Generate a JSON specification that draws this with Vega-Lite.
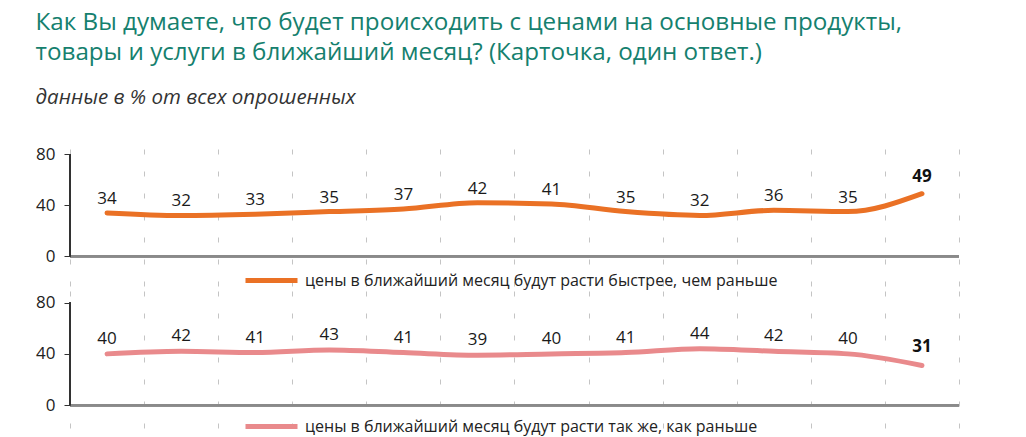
{
  "$schema": "https://vega.github.io/schema/vega-lite/v6.json",
  "padding": {"left": 35, "top": 11, "right": 0, "bottom": 0},
  "config": {"font": "Open Sans", "view": {"stroke": null}},
  "title": {
    "text": ["Как Вы думаете, что будет происходить с ценами на основные продукты,", "товары и услуги в ближайший месяц? (Карточка, один ответ.)"],
    "subtitle": "данные в % от всех опрошенных",
    "anchor": "start",
    "frame": "bounds",
    "font": "Open Sans",
    "fontSize": 24.2,
    "fontWeight": "normal",
    "lineHeight": 30,
    "color": "#15806e",
    "subtitleFont": "Open Sans",
    "subtitleFontStyle": "italic",
    "subtitleFontSize": 20.5,
    "subtitleColor": "#333333",
    "subtitlePadding": 22,
    "offset": 37
  },
  "data": {"values": [
    {"series": "цены в ближайший месяц будут расти быстрее, чем раньше", "wave": 1, "value": 34},
    {"series": "цены в ближайший месяц будут расти быстрее, чем раньше", "wave": 2, "value": 32},
    {"series": "цены в ближайший месяц будут расти быстрее, чем раньше", "wave": 3, "value": 33},
    {"series": "цены в ближайший месяц будут расти быстрее, чем раньше", "wave": 4, "value": 35},
    {"series": "цены в ближайший месяц будут расти быстрее, чем раньше", "wave": 5, "value": 37},
    {"series": "цены в ближайший месяц будут расти быстрее, чем раньше", "wave": 6, "value": 42},
    {"series": "цены в ближайший месяц будут расти быстрее, чем раньше", "wave": 7, "value": 41},
    {"series": "цены в ближайший месяц будут расти быстрее, чем раньше", "wave": 8, "value": 35},
    {"series": "цены в ближайший месяц будут расти быстрее, чем раньше", "wave": 9, "value": 32},
    {"series": "цены в ближайший месяц будут расти быстрее, чем раньше", "wave": 10, "value": 36},
    {"series": "цены в ближайший месяц будут расти быстрее, чем раньше", "wave": 11, "value": 35},
    {"series": "цены в ближайший месяц будут расти быстрее, чем раньше", "wave": 12, "value": 49},
    {"series": "цены в ближайший месяц будут расти так же, как раньше", "wave": 1, "value": 40},
    {"series": "цены в ближайший месяц будут расти так же, как раньше", "wave": 2, "value": 42},
    {"series": "цены в ближайший месяц будут расти так же, как раньше", "wave": 3, "value": 41},
    {"series": "цены в ближайший месяц будут расти так же, как раньше", "wave": 4, "value": 43},
    {"series": "цены в ближайший месяц будут расти так же, как раньше", "wave": 5, "value": 41},
    {"series": "цены в ближайший месяц будут расти так же, как раньше", "wave": 6, "value": 39},
    {"series": "цены в ближайший месяц будут расти так же, как раньше", "wave": 7, "value": 40},
    {"series": "цены в ближайший месяц будут расти так же, как раньше", "wave": 8, "value": 41},
    {"series": "цены в ближайший месяц будут расти так же, как раньше", "wave": 9, "value": 44},
    {"series": "цены в ближайший месяц будут расти так же, как раньше", "wave": 10, "value": 42},
    {"series": "цены в ближайший месяц будут расти так же, как раньше", "wave": 11, "value": 40},
    {"series": "цены в ближайший месяц будут расти так же, как раньше", "wave": 12, "value": 31}
  ]},
  "spacing": -4,
  "resolve": {"scale": {"y": "independent", "stroke": "independent"}, "legend": {"stroke": "independent"}},
  "vconcat": [
    {
      "width": 889,
      "height": 138,
      "transform": [{"filter": "datum.series === 'цены в ближайший месяц будут расти быстрее, чем раньше'"}],
      "encoding": {
        "x": {"field": "wave", "type": "ordinal", "scale": {"type": "band", "paddingInner": 0, "paddingOuter": 0},
              "axis": {"title": null, "labels": false, "ticks": false, "domain": false, "grid": true, "gridDash": [5, 17], "gridColor": "#c4c4c4", "gridWidth": 1, "tickBand": "extent", "minExtent": 0, "maxExtent": 0, "offset": 0}}
      },
      "layer": [
        {"mark": {"type": "rule", "color": "#8a8a8a", "strokeWidth": 2}, "encoding": {"x": null, "y": {"datum": 0, "type": "quantitative"}}},
        {"mark": {"type": "rule", "color": "#333333", "strokeWidth": 1}, "encoding": {"x": {"datum": 1, "type": "ordinal", "bandPosition": 0}, "y": {"datum": 0, "type": "quantitative"}, "y2": {"datum": 80}}},
        {
          "mark": {"type": "line", "interpolate": "monotone", "strokeWidth": 5, "strokeCap": "round"},
          "encoding": {
            "y": {"field": "value", "type": "quantitative", "scale": {"domain": [-24, 84], "nice": false, "zero": false},
                  "axis": {"title": null, "values": [0, 40, 80], "grid": false, "domain": false, "tickSize": 6, "tickColor": "#333333", "labelFontSize": 17, "labelColor": "#222222", "labelPadding": 9}},
            "stroke": {"field": "series", "type": "nominal", "scale": {"range": ["#ea7125"]},
                       "legend": {"title": null, "orient": "none", "legendX": 173, "legendY": 103, "symbolType": "stroke", "symbolStrokeWidth": 5, "symbolSize": 2704, "labelFontSize": 16, "labelColor": "#222222", "labelOffset": 5, "labelLimit": 700, "padding": 0}}
          }
        },
        {
          "transform": [{"filter": "datum.wave < 12"}],
          "mark": {"type": "text", "baseline": "alphabetic", "fontSize": 17, "color": "#1a1a1a", "dy": -9},
          "encoding": {
            "y": {"field": "value", "type": "quantitative"},
            "text": {"field": "value", "type": "quantitative"}
          }
        },
        {
          "transform": [{"filter": "datum.wave === 12"}],
          "mark": {"type": "text", "baseline": "alphabetic", "fontSize": 17, "fontWeight": "bold", "color": "#111111", "dy": -12},
          "encoding": {
            "y": {"field": "value", "type": "quantitative"},
            "text": {"field": "value", "type": "quantitative"}
          }
        }
      ]
    },
    {
      "width": 889,
      "height": 145,
      "transform": [{"filter": "datum.series === 'цены в ближайший месяц будут расти так же, как раньше'"}],
      "encoding": {
        "x": {"field": "wave", "type": "ordinal", "scale": {"type": "band", "paddingInner": 0, "paddingOuter": 0},
              "axis": {"title": null, "labels": false, "ticks": false, "domain": false, "grid": true, "gridDash": [5, 17], "gridColor": "#c4c4c4", "gridWidth": 1, "tickBand": "extent", "minExtent": 0, "maxExtent": 0, "offset": 0}}
      },
      "layer": [
        {"mark": {"type": "rule", "color": "#8a8a8a", "strokeWidth": 2}, "encoding": {"x": null, "y": {"datum": 0, "type": "quantitative"}}},
        {"mark": {"type": "rule", "color": "#333333", "strokeWidth": 1}, "encoding": {"x": {"datum": 1, "type": "ordinal", "bandPosition": 0}, "y": {"datum": 0, "type": "quantitative"}, "y2": {"datum": 80}}},
        {
          "mark": {"type": "line", "interpolate": "monotone", "strokeWidth": 5, "strokeCap": "round"},
          "encoding": {
            "y": {"field": "value", "type": "quantitative", "scale": {"domain": [-24, 89], "nice": false, "zero": false},
                  "axis": {"title": null, "values": [0, 40, 80], "grid": false, "domain": false, "tickSize": 6, "tickColor": "#333333", "labelFontSize": 17, "labelColor": "#222222", "labelPadding": 9}},
            "stroke": {"field": "series", "type": "nominal", "scale": {"range": ["#e98a8c"]},
                       "legend": {"title": null, "orient": "none", "legendX": 173, "legendY": 107, "symbolType": "stroke", "symbolStrokeWidth": 5, "symbolSize": 2704, "labelFontSize": 16, "labelColor": "#222222", "labelOffset": 5, "labelLimit": 700, "padding": 0}}
          }
        },
        {
          "transform": [{"filter": "datum.wave < 12"}],
          "mark": {"type": "text", "baseline": "alphabetic", "fontSize": 17, "color": "#1a1a1a", "dy": -10},
          "encoding": {
            "y": {"field": "value", "type": "quantitative"},
            "text": {"field": "value", "type": "quantitative"}
          }
        },
        {
          "transform": [{"filter": "datum.wave === 12"}],
          "mark": {"type": "text", "baseline": "alphabetic", "fontSize": 17, "fontWeight": "bold", "color": "#111111", "dy": -13},
          "encoding": {
            "y": {"field": "value", "type": "quantitative"},
            "text": {"field": "value", "type": "quantitative"}
          }
        }
      ]
    }
  ]
}
